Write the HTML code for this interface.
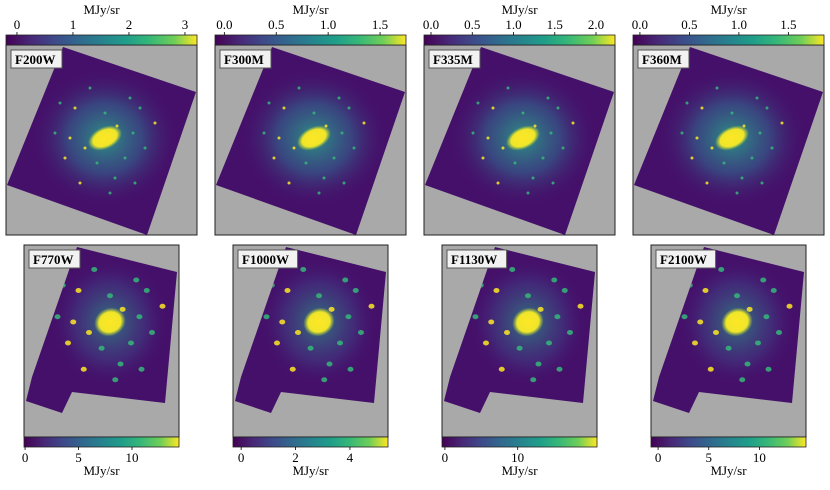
<!DOCTYPE html>
<html><head><meta charset="utf-8">
<style>
body{margin:0;background:#fff;width:830px;height:485px;overflow:hidden;font-family:"Liberation Serif",serif;}
svg text{font-family:"Liberation Serif",serif;}
</style></head>
<body>
<svg id="fig" width="830" height="485" xmlns="http://www.w3.org/2000/svg">
<defs id="defs">
<linearGradient id="vir" x1="0" x2="1" y1="0" y2="0">
<stop offset="0" stop-color="#440154"/><stop offset="0.13" stop-color="#482878"/><stop offset="0.25" stop-color="#3e4989"/><stop offset="0.38" stop-color="#31688e"/><stop offset="0.5" stop-color="#26828e"/><stop offset="0.63" stop-color="#1f9e89"/><stop offset="0.75" stop-color="#35b779"/><stop offset="0.88" stop-color="#6ece58"/><stop offset="1" stop-color="#fde725"/>
</linearGradient>
<radialGradient id="glowT"><stop offset="0" stop-color="#2a9f87" stop-opacity="0.9"/><stop offset="0.5" stop-color="#31688e" stop-opacity="0.6"/><stop offset="1" stop-color="#46106a" stop-opacity="0"/></radialGradient>
<radialGradient id="glowB"><stop offset="0" stop-color="#2a9f87" stop-opacity="0.7"/><stop offset="0.6" stop-color="#3e4989" stop-opacity="0.45"/><stop offset="1" stop-color="#46106a" stop-opacity="0"/></radialGradient>
<radialGradient id="core"><stop offset="0" stop-color="#fde725"/><stop offset="0.7" stop-color="#f0e52a"/><stop offset="1" stop-color="#b5de2b" stop-opacity="0"/></radialGradient>
</defs>
</svg>
<script>
const filters=["F200W","F300M","F335M","F360M","F770W","F1000W","F1130W","F2100W"];
const cbMin=[-0.196,-0.09,-0.085,-0.07,-0.1,-0.3,-0.4,-0.7];
const cbMax=[3.215,1.75,2.23,1.86,14.4,5.4,20.9,14.6];
const ticks=[[0,1,2,3],[0,0.5,1,1.5],[0,0.5,1,1.5,2],[0,0.5,1,1.5],[0,5,10],[0,2,4],[0,10],[0,5,10]];
const tickLabels=[["0","1","2","3"],["0.0","0.5","1.0","1.5"],["0.0","0.5","1.0","1.5","2.0"],["0.0","0.5","1.0","1.5"],["0","5","10"],["0","2","4"],["0","10"],["0","5","10"]];
const svg=document.getElementById('fig');
const defs=document.getElementById('defs');
const NS="http://www.w3.org/2000/svg";
function mk(tag,a,parent){const e=document.createElementNS(NS,tag);for(const k in a)e.setAttribute(k,a[k]);(parent||svg).appendChild(e);return e;}
const topPoly=[[57,2],[190,47],[141,190],[1,140]];
const botPoly=[[53,2],[153,27],[141,158],[48,147],[38,168],[2,156],[8,132]];
const knots=[[-30,-30],[25,-40],[40,10],[-40,20],[10,40],[-15,-50],[50,-15],[-50,-5],[30,45],[-25,45],[0,-25],[20,20],[-20,10],[35,-30],[-45,-35],[12,-12],[-8,25],[28,-5],[-35,0],[5,55]];
for(let i=0;i<8;i++){
  const top=i<4;
  const col=i%4;
  const px=top?6+col*209:24+col*209;
  const py=top?45:245;
  const pw=top?191:155;
  const ph=top?190:192;
  const g=mk('g',{});
  
  
  const bg=mk('rect',{x:px,y:py,width:pw,height:ph,fill:'#a9a9a9',stroke:'#222','stroke-width':1},g);
  
  
  const poly=top?topPoly:botPoly;
  const pts=poly.map(p=>(px+p[0])+','+(py+p[1])).join(' ');
  const cp=mk('clipPath',{id:'cp'+i},defs);
  mk('polygon',{points:pts},cp);
  const pg=mk('polygon',{points:pts,fill:'#45106a'},g);
  
  
  const gi=mk('g',{'clip-path':'url(#cp'+i+')'},g);
  const cx=top?px+99:px+86, cy=top?py+93:py+77;
  mk('ellipse',{cx:cx,cy:cy,rx:top?75:60,ry:top?70:65,fill:top?'url(#glowT)':'url(#glowB)'},gi);
  knots.forEach((k,j)=>{
    const s=top?1:1.05;
    mk('ellipse',{cx:cx+k[0]*s,cy:cy+k[1]*s,rx:top?1.5:3,ry:top?1.5:2.5,fill:j%3==0?'#fde725':'#35b779',opacity:0.85},gi);
  });
  const c=mk('ellipse',{cx:cx,cy:cy,rx:top?18:16,ry:top?11:14,fill:'url(#core)',transform:`rotate(-25 ${cx} ${cy})`},gi);
  
  
  const lw=filters[i].length*8.6+8;
  const lb=mk('rect',{x:px+5,y:py+5,width:lw,height:18,fill:'#f2f2f2',stroke:'#555','stroke-width':1},g);
  
  
  const lt=mk('text',{x:px+9,y:py+19,'font-size':13,'font-weight':'bold',fill:'#000'},g);
  lt.textContent=filters[i];
  
  
  const cby=top?35:437;
  const cb=mk('rect',{x:px,y:cby,width:pw,height:10,fill:'url(#vir)',stroke:'#222','stroke-width':0.8},g);
  
  
  const sx=v=>px+(v-cbMin[i])/(cbMax[i]-cbMin[i])*pw;
  ticks[i].forEach((v,j)=>{
    const x=sx(v);
    if(top) mk('line',{x1:x,x2:x,y1:cby-3,y2:cby,stroke:'#000','stroke-width':0.8},g);
    else mk('line',{x1:x,x2:x,y1:cby+10,y2:cby+13,stroke:'#000','stroke-width':0.8},g);
    const t=mk('text',{x:x,y:top?cby-6:cby+25,'font-size':13,'text-anchor':'middle',fill:'#000'},g);
    t.textContent=tickLabels[i][j];
    
    
  });
  const u=mk('text',{x:px+pw/2,y:top?14:475,'font-size':13,'text-anchor':'middle',fill:'#000'},g);
  u.textContent='MJy/sr';
  
  
}
</script>
</body></html>
